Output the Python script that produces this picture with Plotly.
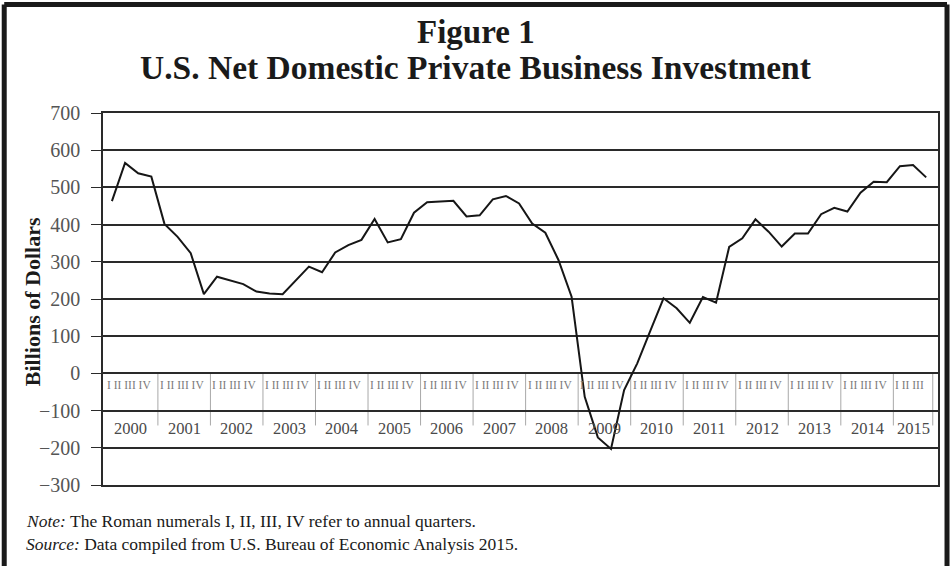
import plotly.graph_objects as go

# ---- data ----
years = [str(y) for y in range(2000, 2016)]
quarter_labels = ["I II III IV"] * 15 + ["I II III"]
investment = [
    463, 566, 538, 529,   # 2000
    402, 367, 323, 213,   # 2001
    260, 250, 240, 220,   # 2002
    215, 213, 250, 287,   # 2003
    272, 325, 345, 359,   # 2004
    415, 352, 361, 432,   # 2005
    460, 462, 464, 422,   # 2006
    425, 468, 477, 457,   # 2007
    403, 378, 305, 206,   # 2008
    -63, -172, -203, -45, # 2009
    27, 115, 202, 175,    # 2010
    136, 205, 190, 340,   # 2011
    363, 414, 381, 341,   # 2012
    376, 376, 428, 445,   # 2013
    435, 486, 515, 514,   # 2014
    557, 560, 527,        # 2015
]
y_ticks = [-300, -200, -100, 0, 100, 200, 300, 400, 500, 600, 700]

quarter_index = list(range(len(investment)))

SERIF = "Liberation Serif, Times New Roman, serif"
DARK = "#2a2a2a"

fig = go.Figure()
fig.add_trace(go.Scatter(
    x=quarter_index, y=investment, mode="lines",
    line=dict(color="#161616", width=2),
    hoverinfo="skip", showlegend=False,
))

annotations = []
shapes = []

# quarter / year label table
for k, yr in enumerate(years):
    start = 4 * k - 0.5
    end = min(4 * k + 3.5, len(investment) - 0.5)
    left_edge = -0.68 if k == 0 else start
    annotations.append(dict(
        x=start, y=-32, xref="x", yref="y", text=quarter_labels[k],
        showarrow=False, xanchor="left", yanchor="middle",
        font=dict(family=SERIF, size=11.5, color="#7a7a7a"),
    ))
    annotations.append(dict(
        x=(left_edge + end) / 2, y=-148, xref="x", yref="y", text=yr,
        showarrow=False, xanchor="center", yanchor="middle",
        font=dict(family=SERIF, size=16.5, color="#4a4a4a"),
    ))
    if k > 0:
        shapes.append(dict(type="line", xref="x", yref="y",
                           x0=start, x1=start, y0=0, y1=-140,
                           line=dict(color="#a8a8a8", width=1), layer="below"))
shapes.append(dict(type="line", xref="x", yref="y",
                   x0=len(investment) - 0.5, x1=len(investment) - 0.5, y0=0, y1=-140,
                   line=dict(color="#a8a8a8", width=1), layer="below"))

# titles and notes
annotations += [
    dict(x=0.4468, y=1.2172, xref="paper", yref="paper", text="<b>Figure 1</b>",
         showarrow=False, xanchor="center", yanchor="middle",
         font=dict(family=SERIF, size=33, color="#1a1a1a")),
    dict(x=0.4468, y=1.1223, xref="paper", yref="paper",
         text="<b>U.S. Net Domestic Private Business Investment</b>",
         showarrow=False, xanchor="center", yanchor="middle",
         font=dict(family=SERIF, size=33.5, color="#1a1a1a")),
    dict(x=-0.0836, y=0.492, xref="paper", yref="paper",
         text="<b>Billions of Dollars</b>", textangle=-90,
         showarrow=False, xanchor="center", yanchor="middle",
         font=dict(family=SERIF, size=22, color="#1a1a1a")),
    dict(x=-0.0944, y=-0.0968, xref="paper", yref="paper",
         text="<i>Note:</i> The Roman numerals I, II, III, IV refer to annual quarters.",
         showarrow=False, xanchor="left", yanchor="middle",
         font=dict(family=SERIF, size=17.5, color="#1a1a1a")),
    dict(x=-0.0944, y=-0.1586, xref="paper", yref="paper",
         text="<i>Source:</i> Data compiled from U.S. Bureau of Economic Analysis 2015.",
         showarrow=False, xanchor="left", yanchor="middle",
         font=dict(family=SERIF, size=17.5, color="#1a1a1a")),
]

# outer frame (top, left, right)
for (x0, y0, x1, y1) in [(-0.1183, 1.292, 1.0108, 1.292),
                         (-0.1183, 1.292, -0.1183, -0.30),
                         (1.0108, 1.292, 1.0108, -0.30)]:
    shapes.append(dict(type="line", xref="paper", yref="paper",
                       x0=x0, y0=y0, x1=x1, y1=y1,
                       line=dict(color="#1a1a1a", width=5)))

fig.update_layout(
    width=952, height=566,
    margin=dict(l=103, r=12, t=113, b=81),
    paper_bgcolor="white", plot_bgcolor="white",
    showlegend=False,
    annotations=annotations,
    shapes=shapes,
    xaxis=dict(range=[-0.68, 62.9], showgrid=False, zeroline=False,
               showticklabels=False, ticks="",
               showline=True, mirror=True, linecolor=DARK, linewidth=1.5),
    yaxis=dict(range=[-300, 700], tickvals=y_ticks,
               showgrid=True, gridcolor=DARK, gridwidth=1.5,
               zeroline=True, zerolinecolor=DARK, zerolinewidth=1.5,
               showline=True, mirror=True, linecolor=DARK, linewidth=1.5,
               ticks="outside", ticklen=10, tickcolor=DARK, tickwidth=1.2,
               ticklabelstandoff=7,
               tickfont=dict(family=SERIF, size=20, color="#555555")),
)

fig.write_html(
    "out.html",
    config={"displayModeBar": False},
    post_script="document.body.style.margin='0px';document.body.style.overflow='hidden';",
)
